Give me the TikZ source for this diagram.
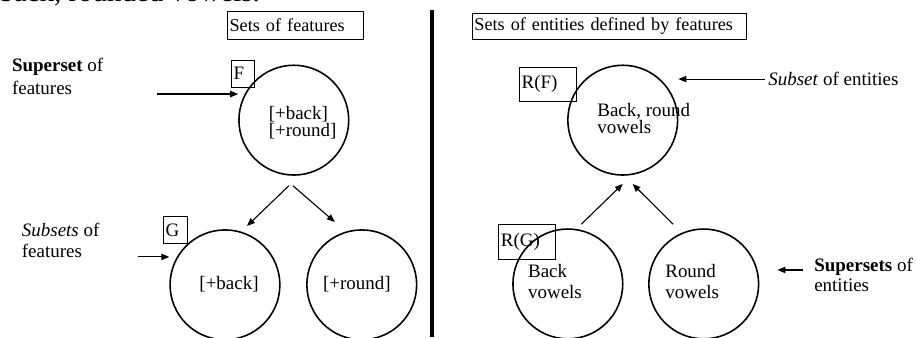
\documentclass[tikz,border=0pt]{standalone}
\usepackage{fontspec}
\setmainfont{Liberation Serif}
\usetikzlibrary{arrows.meta}

\begin{document}
\begin{tikzpicture}[
    every node/.style={font=\fontsize{12pt}{14.5pt}\selectfont},
    setcirc/.style={draw, circle, line width=1pt, minimum size=2.44cm},
    namebox/.style={draw, line width=0.6pt, anchor=west, align=left, inner xsep=1.5pt, inner ysep=0pt},
    sidetext/.style={anchor=west, align=left, inner sep=0pt},
    conn/.style={-{Triangle[length=5pt, width=4pt]}, line width=0.7pt}
]
    \useasboundingbox (0, 0) rectangle (20.38, 7.49);

    % Last line of the text above, cut off by the page
    \node[anchor=base west, inner sep=0pt, font=\fontsize{18.3pt}{22pt}\selectfont] (run) at (-0.02, 7.46) {back, rounded vowels.};

    % Divider
    \draw[line width=2.5pt] (9.6, 7.27) -- (9.6, 0);

    % Sets of features
    \node[namebox, text width=2.92cm, minimum height=0.61cm, font=\fontsize{11.5pt}{14pt}\selectfont] (hfeat) at (5.04, 6.92) {Sets of features};
    \node[namebox, text width=0.405cm, minimum height=0.6cm] (boxF) at (5.13, 5.856) {F};
    \node[namebox, text width=0.427cm, minimum height=0.58cm] (boxG) at (3.62, 2.378) {G};

    \node[setcirc] (Fc) at (6.53, 4.82) {};
    \node[setcirc] (Gc) at (5.00, 1.16) {};
    \node[setcirc] (Rc) at (8.04, 1.16) {};

    \node[sidetext] (Ftxt) at (5.967, 4.77) {[+back]\\[-4pt][+round]};
    \node[inner sep=0pt] (Gtxt) at (5.09, 1.17) {[+back]};
    \node[inner sep=0pt] (Rtxt) at (7.93, 1.17) {[+round]};

    \node[sidetext] (supF) at (0.26, 5.80) {\textbf{Superset} of\\features};
    \node[sidetext] (subF) at (0.48, 2.147) {\textit{Subsets} of\\[-1.5pt]features};
    \coordinate (supT) at (3.49, 5.40);
    \coordinate (subT) at (3.07, 1.78);
    \draw[conn] (supT) -- (supT -| Fc.west);
    \draw[conn] (subT) -- (subT -| Gc.west);

    \draw[conn] ([shift={(-0.11,-0.22)}]Fc.south) -- ([shift={(0.49,0.07)}]Gc.north);
    \draw[conn] ([shift={(-0.02,-0.22)}]Fc.south) -- ([shift={(-0.6,0.16)}]Rc.north);

    % Sets of entities
    \node[namebox, text width=5.99cm, minimum height=0.57cm, font=\fontsize{11.5pt}{14pt}\selectfont] (hent) at (10.48, 6.90) {Sets of entities defined by features};
    \node[namebox, text width=1.16cm, minimum height=0.756cm] (boxRF) at (11.53, 5.62) {R(F)};
    \node[namebox, text width=1.16cm, minimum height=0.78cm] (boxRG) at (11.07, 2.122) {R(G)};

    \node[setcirc] (RFc) at (13.84, 4.82) {};
    \node[setcirc] (RGc) at (12.62, 1.18) {};
    \node[setcirc] (RRc) at (15.64, 1.18) {};

    \node[sidetext] (RFtxt) at (13.27, 4.85) {Back, round\\[-4pt]vowels};
    \node[sidetext] (RGtxt) at (11.73, 1.23) {Back\\[-1.2pt]vowels};
    \node[sidetext] (RRtxt) at (14.78, 1.23) {Round\\[-1.2pt]vowels};

    \node[anchor=base west, inner sep=0pt] (subEnt) at (17.07, 5.60) {\textit{Subset} of entities};
    \node[sidetext] (supEnt) at (18.09, 1.376) {\textbf{Supersets} of\\[-1.9pt]entities};
    \coordinate (subE) at (17.0, 5.733);
    \coordinate (supE) at (17.84, 1.49);
    \draw[conn] (subE) -- (subE -| RFc.east);
    \draw[conn, shorten >=0.4cm] (supE) -- (supE -| RRc.east);

    \draw[conn] ([shift={(0.30,0.09)}]RGc.north) -- ([shift={(0,-0.18)}]RFc.south);
    \draw[conn] ([shift={(-0.68,0.09)}]RRc.north) -- ([shift={(0.22,-0.18)}]RFc.south);
\end{tikzpicture}
\end{document}
